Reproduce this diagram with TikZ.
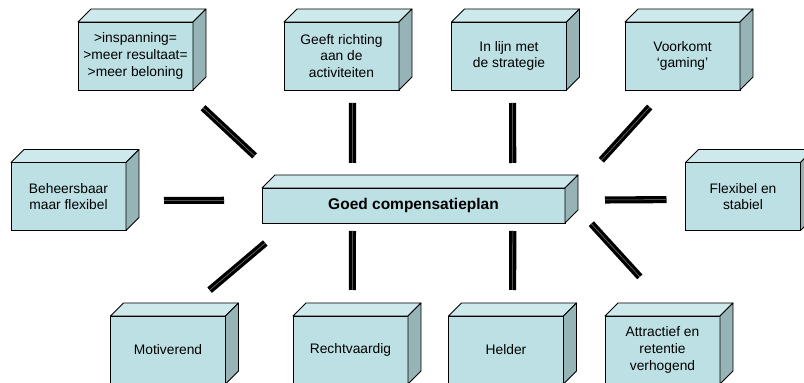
\documentclass[tikz,border=0pt]{standalone}
\usepackage{fontspec}
\setmainfont{Liberation Sans}
\usepackage{tikz}

\definecolor{frontc}{RGB}{188,224,228}
\definecolor{topc}{RGB}{206,233,236}
\definecolor{sidec}{RGB}{150,179,182}

\begin{document}
\begin{tikzpicture}[x=1pt,y=1pt,
    blok/.style={draw,fill=frontc,line width=0.8pt,minimum width=115pt,minimum height=68pt,
        inner sep=2pt,outer sep=0pt,align=center,font=\fontsize{13.8}{16.7}\selectfont},
    topface/.style={draw,fill=topc,line width=0.8pt,line join=round},
    sideface/.style={draw,fill=sidec,line width=0.8pt,line join=round},
    bar/.style={draw=black,double=gray,double distance=0.5pt,line width=3.3pt}]
    \clip (0,0) rectangle (804,383);
    % centre
    \node[blok,minimum width=303pt,minimum height=35pt,font=\fontsize{15.5}{18}\selectfont\bfseries] (plan) at (413.5,177.5) {Goed compensatieplan};
    % top row
    \node[blok] (insp) at (135.5,327) {>inspanning=\\>meer resultaat=\\>meer beloning};
    \node[blok] (geeft) at (341.5,327) {Geeft richting\\aan de\\activiteiten};
    \node[blok] (lijn) at (509,327) {In lijn met\\de strategie};
    \node[blok] (voork) at (682.5,327) {Voorkomt\\‘gaming’};
    % sides
    \node[blok] (beheer) at (68.5,186.5) {Beheersbaar\\maar flexibel};
    \node[blok] (flex) at (743,186.5) {Flexibel en\\stabiel};
    % bottom row
    \node[blok] (motiv) at (168,33) {Motiverend};
    \node[blok] (recht) at (350.5,33) {Rechtvaardig};
    \node[blok] (helder) at (506,33) {Helder};
    \node[blok] (attr) at (662.5,33) {Attractief en\\retentie\\verhogend};
    % 3d faces
    \foreach \n in {plan,insp,geeft,lijn,voork,beheer,flex,motiv,recht,helder,attr} {
        \filldraw[topface] (\n.north west) -- ++(13,13) -- ([shift={(13,13)}]\n.north east) -- (\n.north east) -- cycle;
        \filldraw[sideface] (\n.north east) -- ([shift={(13,13)}]\n.north east) -- ([shift={(13,13)}]\n.south east) -- (\n.south east) -- cycle;
    }
    % bars
    \draw[bar,shorten <=47pt,shorten >=26pt] (plan.172) -- (insp.-35);
    \draw[bar,shorten <=25pt,shorten >=13pt] (plan.164.12) -- (geeft.-72.84);
    \draw[bar,shorten <=25pt,shorten >=13pt] (plan.10.07) -- (lijn.-84.96);
    \draw[bar,shorten <=54pt,shorten >=23pt] (plan.2) -- (voork.-117);
    \draw[bar,shorten <=38pt,shorten >=38pt] (plan.178) -- (beheer.-4);
    \draw[bar,shorten <=40pt,shorten >=19pt] (plan.2) -- (flex.-177);
    \draw[bar,shorten <=31pt,shorten >=40pt] (plan.-172) -- (motiv.72);
    \draw[bar,shorten <=8pt,shorten >=26pt] (plan.-164.12) -- (recht.87.47);
    \draw[bar,shorten <=8pt,shorten >=26pt] (plan.-10.07) -- (helder.79.99);
    \draw[bar,shorten <=39pt,shorten >=53pt] (plan.4) -- (attr.69);
\end{tikzpicture}
\end{document}
